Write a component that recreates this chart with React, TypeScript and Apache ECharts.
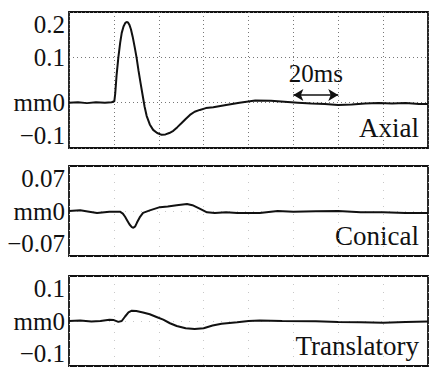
import React, { useEffect, useRef } from "react";
import * as echarts from "echarts";

// time (ms) and displacement (mm)
const axialT = [0, 4, 8, 12, 16, 19, 20.2, 20.6, 21.2, 22, 22.8, 23.5, 24.3, 25.1, 25.7, 26.3, 26.9, 27.6, 28.4, 29.3, 30.1, 31, 31.9, 32.8, 33.7, 34.6, 36, 37.5, 39.3, 41.3, 43, 44.7, 46.5, 48.3, 50.2, 52, 53.9, 56, 58.3, 61, 64.3, 70, 76, 83, 90, 96, 102, 108, 114, 120, 126, 132, 138, 144, 150, 156, 160];
const axialV = [0.0, 0.001, -0.001, 0.001, 0.0, 0.001, 0.003, 0.02, 0.06, 0.1, 0.132, 0.154, 0.168, 0.176, 0.178, 0.177, 0.172, 0.162, 0.145, 0.122, 0.1, 0.07, 0.043, 0.017, -0.009, -0.029, -0.048, -0.06, -0.067, -0.071, -0.07, -0.067, -0.062, -0.054, -0.045, -0.036, -0.027, -0.02, -0.016, -0.012, -0.01, -0.005, 0.0, 0.005, 0.004, 0.002, 0.0, -0.002, -0.003, -0.005, -0.004, -0.002, -0.001, -0.002, -0.001, -0.003, -0.003];

const conicalT = [0, 5, 9, 12.5, 18, 22.7, 24, 25, 26, 27, 28, 28.7, 29.5, 30.3, 31.5, 33, 36, 40.5, 44, 48, 52.6, 55, 58, 61.5, 65, 70, 75, 85, 93, 100, 110, 120, 130, 140, 150, 160];
const conicalV = [0.0, 0.001, -0.001, -0.003, -0.001, -0.001, -0.004, -0.009, -0.015, -0.021, -0.025, -0.026, -0.024, -0.018, -0.01, -0.003, 0.001, 0.006, 0.007, 0.009, 0.011, 0.009, 0.004, -0.002, -0.003, -0.002, -0.003, -0.003, 0.0, -0.001, -0.0005, 0.0, -0.002, -0.002, -0.003, -0.003];

const transT = [0, 5, 10, 14, 18, 20, 22, 23.5, 25, 26.5, 28, 30, 33, 36, 39, 42, 45, 48, 52, 56, 60, 64, 68, 75, 80, 85, 95, 110, 120, 130, 140, 150, 160];
const transV = [0.0, 0.001, -0.001, 0.0, 0.003, 0.002, -0.002, 0.0, 0.01, 0.019, 0.023, 0.022, 0.019, 0.015, 0.009, 0.003, -0.005, -0.011, -0.016, -0.018, -0.016, -0.01, -0.006, -0.003, 0.0, 0.001, 0.0, -0.0005, -0.002, -0.003, -0.004, -0.002, -0.001];

const panelNames = ["Axial", "Conical", "Translatory"];
const yRanges = [
  { min: -0.1, max: 0.2, interval: 0.1 },
  { min: -0.07, max: 0.07, interval: 0.07 },
  { min: -0.1, max: 0.1, interval: 0.1 },
];
const timeMax = 160;
const timeStep = 20;
const scaleBarStart = 100;
const scaleBarEnd = 120;
const scaleBarLevel = 0.017;
const scaleBarText = "20ms";

const FONT = "Liberation Serif";

function zip(t: number[], v: number[]) {
  return t.map((x, i) => [x, v[i]]);
}

export default function App() {
  const ref = useRef<HTMLDivElement>(null);
  useEffect(() => {
    if (!ref.current) return;
    const chart = echarts.init(ref.current, null, { renderer: "svg" });
    const grids = [
      { left: 69, top: 12, width: 359, height: 136 },
      { left: 69, top: 166, width: 359, height: 90 },
      { left: 69, top: 276, width: 359, height: 90 },
    ];
    const series = [zip(axialT, axialV), zip(conicalT, conicalV), zip(transT, transV)];
    const fmt = (v: number) => {
      if (Math.abs(v) < 1e-9) return "mm0";
      const s = String(Math.round(Math.abs(v) * 1000) / 1000);
      return v < 0 ? "\u2212" + s : s;
    };
    const option: any = {
      animation: false,
      backgroundColor: "#fff",
      textStyle: { fontFamily: FONT },
      grid: grids.map((g) => ({ ...g, show: true, borderColor: "#111", borderWidth: 1.8, backgroundColor: "transparent" })),
      xAxis: grids.map((_, i) => ({
        type: "value",
        gridIndex: i,
        min: 0,
        max: timeMax,
        interval: timeStep,
        axisLine: { show: false },
        axisTick: { show: false },
        axisLabel: { show: false },
        splitLine: {
          show: true,
          lineStyle: { color: i === 0 ? "#777" : "#c8c8c8", width: 1, type: i === 0 ? [1, 3] : [1, 7] },
        },
      })),
      yAxis: yRanges.map((r, i) => ({
        type: "value",
        gridIndex: i,
        min: r.min,
        max: r.max,
        interval: r.interval,
        axisLine: { show: false },
        axisTick: { show: false },
        axisLabel: {
          show: true,
          formatter: fmt,
          fontFamily: FONT,
          fontSize: 25,
          color: "#111",
          margin: 4,
          showMinLabel: true,
          showMaxLabel: true,
          verticalAlignMaxLabel: "top",
          verticalAlignMinLabel: "bottom",
        },
        splitLine: {
          show: true,
          lineStyle: { color: i === 0 ? "#777" : "#c8c8c8", width: 1, type: i === 0 ? [1, 3] : [1, 7] },
        },
      })),
      series: series.map((d, i) => ({
        type: "line",
        xAxisIndex: i,
        yAxisIndex: i,
        data: d,
        smooth: false,
        showSymbol: false,
        lineStyle: { color: "#111", width: 2 },
        markLine:
          i === 0
            ? {
                silent: true,
                symbol: ["arrow", "arrow"],
                symbolSize: [9, 10],
                lineStyle: { color: "#111", width: 1.5, type: "solid" },
                label: {
                  show: true,
                  position: "middle",
                  formatter: scaleBarText,
                  fontFamily: FONT,
                  fontSize: 25,
                  color: "#111",
                  distance: 9,
                },
                data: [[{ coord: [scaleBarStart, scaleBarLevel] }, { coord: [scaleBarEnd, scaleBarLevel] }]],
              }
            : undefined,
      })),
      graphic: panelNames.map((name, i) => ({
        type: "text",
        right: 10,
        top: grids[i].top + grids[i].height - 34,
        style: { text: name, fontFamily: FONT, fontSize: 27, fill: "#111" },
      })),
    };
    chart.setOption(option);
    return () => chart.dispose();
  }, []);
  return <div ref={ref} style={{ position: "fixed", left: 0, top: 0, width: 429, height: 368 }} />;
}
